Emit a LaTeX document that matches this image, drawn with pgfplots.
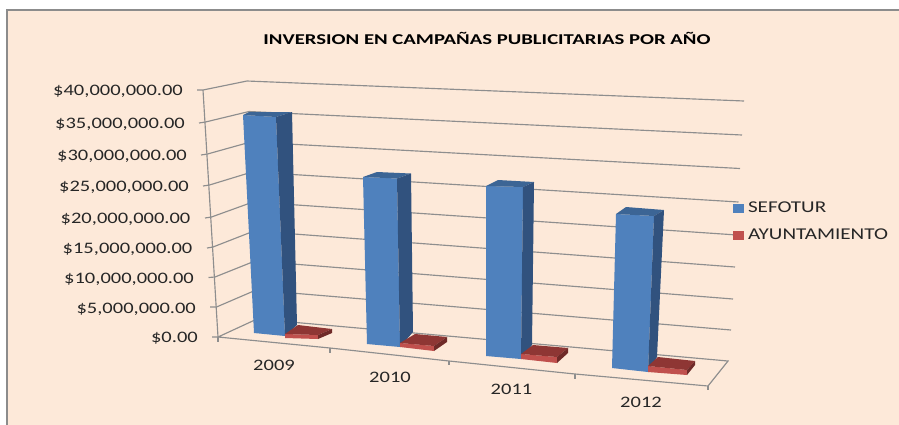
\documentclass[border=0pt]{standalone}
\usepackage{pgfplots}
\pgfplotsset{compat=1.18}
\usepackage{fontspec}
\setmainfont{Carlito}[FakeStretch=1.28]
\newfontfamily\titlefont{Carlito}[FakeStretch=1.38,BoldFont={Carlito Bold}]
\definecolor{bgp}{HTML}{FDE9D9}
\definecolor{frameg}{HTML}{8C8C8C}
\definecolor{gridg}{HTML}{8E8E8E}
\definecolor{txt}{HTML}{262626}
\definecolor{blueF}{HTML}{4F81BD}
\definecolor{blueS}{HTML}{31527E}
\definecolor{blueT}{HTML}{3C6595}
\definecolor{redF}{HTML}{C0504D}
\definecolor{redS}{HTML}{6F2A28}
\definecolor{redT}{HTML}{8E3634}
% Estimated values (MXN), drawn below in the chart's projected plane:
% SEFOTUR 2009 35.0M, 2010 26.5M, 2011 25.5M, 2012 22.0M; AYUNTAMIENTO about 1M each year
\pgfplotsset{
  face/.style={forget plot,draw=none,fill=#1},
  grid line/.style={forget plot,gridg,line width=1.15pt},
}
\newcommand{\ylab}[3]{\node[anchor=east,inner sep=0pt,text=txt,font=\fontsize{16}{16}\selectfont] at (axis cs:#1,#2+1.5) {\$#3};}
\newcommand{\xlab}[3]{\node[anchor=center,inner sep=0pt,text=txt,font=\fontsize{16}{16}\selectfont] at (axis cs:#1,#2+1) {#3};}
\begin{document}
\begin{tikzpicture}[x=1pt,y=1pt]
\useasboundingbox (0,0) rectangle (899,424);
\begin{axis}[
  at={(0pt,0pt)},anchor=south west,
  width=899pt,height=424pt,scale only axis,
  xmin=0,xmax=899,ymin=0,ymax=424,y dir=reverse,
  axis lines=none,clip=true,
  legend cell align=left,
  legend style={at={(axis cs:733,201)},anchor=north west,draw=none,fill=none,
    inner sep=0pt,outer sep=0pt,row sep=13pt,
    font=\fontsize{16.5}{18}\selectfont,text=txt,
    nodes={inner sep=1pt}},
  legend image code/.code={\fill[#1] (0pt,-4.5pt) rectangle (11pt,4.5pt);},
]
% background panel
\addplot[forget plot,fill=bgp,draw=frameg,line width=1.6pt] coordinates {(7,430)(7,10)(905,10)(905,430)} --cycle;

% left wall grid
\addplot[grid line] coordinates {(197,90)(203,90)(247,81)(744,101)};
\addplot[grid line] coordinates {(199,123)(205.5,122)(249,111.5)(742,135)};
\addplot[grid line] coordinates {(201,155)(207.5,154)(250.5,142)(740,168.5)};
\addplot[grid line] coordinates {(203,186)(209.5,185)(252,172)(738.5,202)};
\addplot[grid line] coordinates {(205,218)(211.5,217)(253,202)(737,235)};
\addplot[grid line] coordinates {(207,248)(213,247)(254,231)(735,267)};
\addplot[grid line] coordinates {(208.5,277.5)(215,277)(255,261)(733,299)};
\addplot[grid line] coordinates {(210,307)(216.5,307)(256,290)(731,330)};
\addplot[grid line] coordinates {(212,337)(218,337)(257,319)(728,361)(708,386)(575,374)(449,361)(330,348)(218,337)};
% axes and ticks
\addplot[grid line] coordinates {(203,90)(218,337)};
\addplot[grid line] coordinates {(218,337)(218,342)};
\addplot[grid line] coordinates {(330,348)(330,353)};
\addplot[grid line] coordinates {(449,361)(449,365)};
\addplot[grid line] coordinates {(575,374)(575,379)};
\addplot[grid line] coordinates {(708,386)(708,390)};

% 2009
\addplot[draw=none,fill=blueF] coordinates {(243,115)(276,117)(285,336)(254,333)} --cycle;
\addlegendentry{\hspace{3pt}SEFOTUR}
\addplot[face=blueT] coordinates {(243,115)(249,112)(292,112)(276,117)} --cycle;
\addplot[face=blueS] coordinates {(276,117)(292,112)(297,325)(285,336)} --cycle;
\addplot[draw=none,fill=redF] coordinates {(285,334)(318,335)(318,339)(285,338)} --cycle;
\addlegendentry{\hspace{3pt}AYUNTAMIENTO}
\addplot[face=redT] coordinates {(285,334)(298,325)(332,329)(318,335)} --cycle;
\addplot[face=redS] coordinates {(318,335)(332,329)(332,333)(318,339)} --cycle;
% 2010
\addplot[face=blueF] coordinates {(363,177)(397,178.5)(400,347)(367,344)} --cycle;
\addplot[face=blueT] coordinates {(363,177)(377,172)(411,173.5)(397,178.5)} --cycle;
\addplot[face=blueS] coordinates {(397,178.5)(411,173.5)(413,332)(400,347)} --cycle;
\addplot[face=redF] coordinates {(400,343)(434,346)(434,351)(400,347)} --cycle;
\addplot[face=redT] coordinates {(400,343)(415,334)(447,337)(434,346)} --cycle;
\addplot[face=redS] coordinates {(434,346)(447,337)(447,342)(434,351)} --cycle;
% 2011
\addplot[face=blueF] coordinates {(486,186)(523,187)(521,359)(486,356)} --cycle;
\addplot[face=blueT] coordinates {(486,186)(498,180)(534,182)(523,187)} --cycle;
\addplot[face=blueS] coordinates {(523,187)(534,182)(532,345)(521,359)} --cycle;
\addplot[face=redF] coordinates {(521,354)(557,357)(557,363)(521,359)} --cycle;
\addplot[face=redT] coordinates {(521,354)(533,345)(568,348)(557,357)} --cycle;
\addplot[face=redS] coordinates {(557,357)(568,348)(568,353)(557,363)} --cycle;
% 2012
\addplot[face=blueF] coordinates {(616,214)(654,216)(648,372)(612,368)} --cycle;
\addplot[face=blueT] coordinates {(616,214)(626,207)(664,210)(654,216)} --cycle;
\addplot[face=blueS] coordinates {(654,216)(664,210)(657,357)(648,372)} --cycle;
\addplot[face=redF] coordinates {(648,366)(687,370)(687,375)(648,372)} --cycle;
\addplot[face=redT] coordinates {(648,366)(658,357)(695,361)(687,370)} --cycle;
\addplot[face=redS] coordinates {(687,370)(695,361)(695,365)(687,375)} --cycle;

% labels
\node[inner sep=0pt] at (axis cs:487,38) {\titlefont\fontsize{15}{15}\selectfont\bfseries INVERSION EN CAMPAÑAS PUBLICITARIAS POR AÑO};
\ylab{183}{90}{40,000,000.00}
\ylab{185}{122.5}{35,000,000.00}
\ylab{187}{155}{30,000,000.00}
\ylab{189}{186}{25,000,000.00}
\ylab{190.5}{218}{20,000,000.00}
\ylab{192.5}{248}{15,000,000.00}
\ylab{194}{278}{10,000,000.00}
\ylab{196}{307.5}{5,000,000.00}
\ylab{198}{337}{0.00}
\xlab{274}{364}{2009}
\xlab{390}{376}{2010}
\xlab{511.5}{388}{2011}
\xlab{641}{401}{2012}
\end{axis}
\end{tikzpicture}
\end{document}
